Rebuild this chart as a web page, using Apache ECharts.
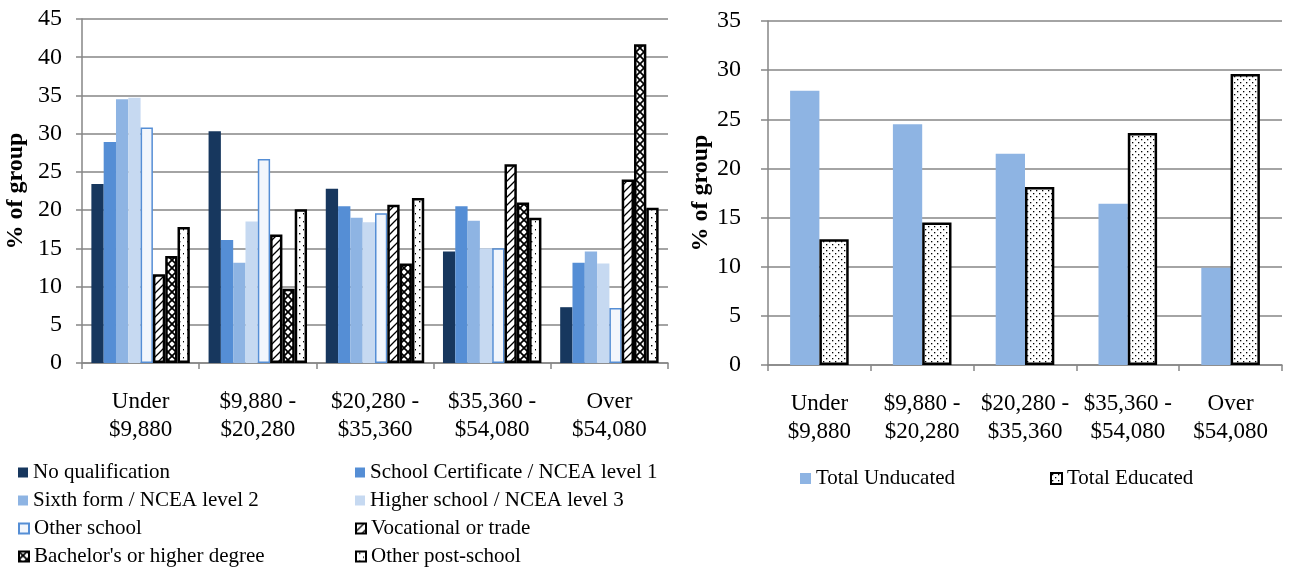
<!DOCTYPE html>
<html>
<head>
<meta charset="utf-8">
<script src="https://cdn.jsdelivr.net/npm/echarts@6/dist/echarts.min.js"></script>
<style>
  html, body { margin: 0; padding: 0; background: #fff; }
  #main { width: 1295px; height: 572px; }
</style>
</head>
<body>
<div id="main"></div>
<script>
// income bands (x axis)
let bands = ['Under\n$9,880', '$9,880 -\n$20,280', '$20,280 -\n$35,360', '$35,360 -\n$54,080', 'Over\n$54,080'];

// left chart: % of each qualification group in each band
let noQual     = [23.4, 30.3, 22.8, 14.6, 7.3];
let schoolCert = [28.9, 16.1, 20.5, 20.5, 13.1];
let sixthForm  = [34.5, 13.1, 19.0, 18.6, 14.6];
let higherSch  = [34.7, 18.5, 18.4, 15.0, 13.0];
let otherSch   = [30.8, 26.7, 19.6, 15.0, 7.2];
let vocational = [11.6, 16.8, 20.7, 26.0, 24.0];
let bachelor   = [14.0, 9.7, 13.0, 21.0, 41.7];
let otherPost  = [17.8, 20.1, 21.6, 19.0, 20.3];

// right chart: totals
let totalUnedu = [27.9, 24.5, 21.5, 16.4, 9.9];
let totalEdu   = [12.8, 14.5, 18.1, 23.6, 29.6];

let leftTicks = [0, 5, 10, 15, 20, 25, 30, 35, 40, 45];
let rightTicks = [0, 5, 10, 15, 20, 25, 30, 35];

// little canvas tiles for the hatched bars
function makeTile(size, draw){
    let c = document.createElement('canvas');
    c.width = size; c.height = size;
    let ctx = c.getContext('2d');
    ctx.fillStyle = '#fff';
    ctx.fillRect(0, 0, size, size);
    ctx.fillStyle = '#000';
    ctx.strokeStyle = '#000';
    draw(ctx, size);
    return c;
}

let diagTile = makeTile(8, function(ctx, s){
    ctx.lineWidth = 1.3;
    ctx.beginPath();
    ctx.moveTo(0, s); ctx.lineTo(s, 0);
    ctx.moveTo(-2, 2); ctx.lineTo(2, -2);
    ctx.moveTo(s - 2, s + 2); ctx.lineTo(s + 2, s - 2);
    ctx.stroke();
});

let crossTile = makeTile(8, function(ctx, s){
    ctx.lineWidth = 1.8;
    ctx.beginPath();
    ctx.moveTo(0, 0); ctx.lineTo(s, s);
    ctx.moveTo(0, s); ctx.lineTo(s, 0);
    ctx.stroke();
    ctx.fillStyle = '#fff';
    ctx.beginPath(); ctx.arc(s / 2, 0.5, 1.4, 0, Math.PI * 2); ctx.fill();
    ctx.beginPath(); ctx.arc(s / 2, s - 0.5, 1.4, 0, Math.PI * 2); ctx.fill();
});

let sparseDots = makeTile(8, function(ctx, s){
    ctx.fillRect(3, 1, 1.4, 1.4);
    ctx.fillRect(7, 5, 1.4, 1.4);
});

let denseDots = makeTile(6, function(ctx, s){
    ctx.fillRect(1, 1, 1.3, 1.3);
    ctx.fillRect(4, 4, 1.3, 1.3);
});

let chartDom = document.getElementById('main');
let myChart = echarts.init(chartDom, null, { renderer: 'canvas' });
let option;

let font = 'Liberation Serif';
let gray = '#868686';

function valueAxis(gridIndex, max, margin, gap, tick){
    return {
        type: 'value',
        gridIndex: gridIndex,
        min: 0,
        max: max,
        interval: 5,
        name: '% of group',
        nameLocation: 'middle',
        nameGap: gap,
        nameTextStyle: { fontFamily: font, fontSize: 24, fontWeight: 'bold', color: '#000' },
        axisLine: { show: true, lineStyle: { color: gray, width: 1.5 } },
        axisTick: { show: true, length: tick, lineStyle: { color: gray, width: 1.5 } },
        axisLabel: { fontFamily: font, fontSize: 24, color: '#000', margin: margin },
        splitLine: { lineStyle: { color: gray, width: 1.5 } }
    };
}

function catAxis(gridIndex){
    return {
        type: 'category',
        gridIndex: gridIndex,
        data: bands,
        axisLine: { lineStyle: { color: gray, width: 1.5 } },
        axisTick: { show: true, length: 6, lineStyle: { color: gray, width: 1.5 } },
        axisLabel: { fontFamily: font, fontSize: 23, lineHeight: 28, color: '#000', margin: 25, interval: 0 }
    };
}

function solidBar(name, data, color){
    return {
        name: name, type: 'bar', xAxisIndex: 0, yAxisIndex: 0,
        data: data, barGap: '0%', barCategoryGap: '16%',
        itemStyle: { color: color }
    };
}

function patternBar(name, data, tile, xi, border){
    return {
        name: name, type: 'bar', xAxisIndex: xi, yAxisIndex: xi,
        data: data, barGap: '0%', barCategoryGap: xi === 0 ? '16%' : '43%',
        itemStyle: {
            color: { image: tile, repeat: 'repeat' },
            borderColor: '#000', borderWidth: border
        }
    };
}

// one legend per entry so every entry sits where the reference has it
function legendAt(name, x, yMid, size){
    return {
        left: x - 5, top: yMid - 15,
        itemWidth: size, itemHeight: size, icon: 'rect',
        textStyle: { fontFamily: font, fontSize: 21, color: '#000', lineHeight: 20 },
        data: [name]
    };
}

option = {
    animation: false,
    textStyle: { fontFamily: font },
    grid: [
        { left: 82, right: 627, top: 19, bottom: 209 },
        { left: 768, right: 13, top: 21, bottom: 207 }
    ],
    xAxis: [catAxis(0), catAxis(1)],
    yAxis: [valueAxis(0, 45, 20, 54, 6), valueAxis(1, 35, 27, 55, 7)],
    legend: [
        legendAt('No qualification', 18, 472, 10),
        legendAt('School Certificate / NCEA level 1', 355, 472, 10),
        legendAt('Sixth form / NCEA level 2', 18, 500, 10),
        legendAt('Higher school / NCEA level 3', 355, 500, 10),
        legendAt('Other school', 18, 528, 10),
        legendAt('Vocational or trade', 355, 528, 10),
        legendAt("Bachelor's or higher degree", 18, 556, 10),
        legendAt('Other post-school', 355, 556, 10),
        legendAt('Total Unducated', 800, 478, 11),
        legendAt('Total Educated', 1050, 478, 11)
    ],
    series: [
        solidBar('No qualification', noQual, '#17375E'),
        solidBar('School Certificate / NCEA level 1', schoolCert, '#558ED5'),
        solidBar('Sixth form / NCEA level 2', sixthForm, '#8EB4E3'),
        solidBar('Higher school / NCEA level 3', higherSch, '#C6D9F1'),
        {
            name: 'Other school', type: 'bar', xAxisIndex: 0, yAxisIndex: 0,
            data: otherSch, barGap: '0%', barCategoryGap: '16%',
            itemStyle: { color: '#F2F6FC', borderColor: '#558ED5', borderWidth: 1.5 }
        },
        patternBar('Vocational or trade', vocational, diagTile, 0, 2.5),
        patternBar("Bachelor's or higher degree", bachelor, crossTile, 0, 2.5),
        patternBar('Other post-school', otherPost, sparseDots, 0, 2.5),
        {
            name: 'Total Unducated', type: 'bar', xAxisIndex: 1, yAxisIndex: 1,
            data: totalUnedu, barGap: '0%', barCategoryGap: '43%',
            itemStyle: { color: '#8EB4E3' }
        },
        patternBar('Total Educated', totalEdu, denseDots, 1, 2.5)
    ]
};

option && myChart.setOption(option);
</script>
</body>
</html>
